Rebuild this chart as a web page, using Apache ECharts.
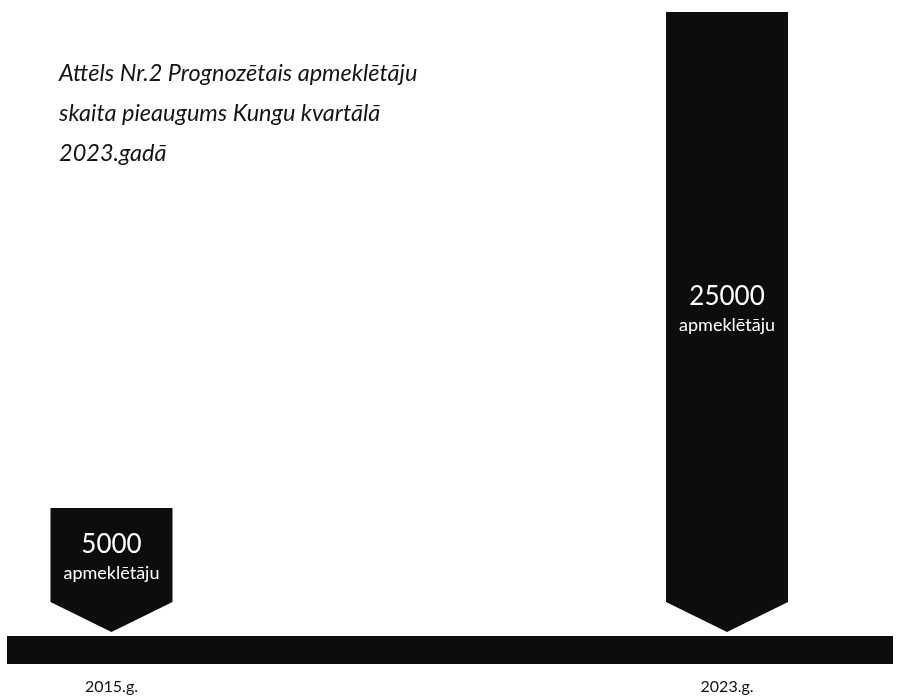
<!DOCTYPE html>
<html>
<head>
<meta charset="utf-8">
<script src="https://cdn.jsdelivr.net/npm/echarts@6/dist/echarts.min.js"></script>
<style>
    html, body { margin: 0; padding: 0; background: #fff; }
    #chart { width: 897px; height: 697px; }
</style>
</head>
<body>
<div id="chart"></div>
<script>
    // dati
    const years = [2015, 2023];
    const visitors = [5000, 25000];
    const unitLabel = 'apmeklētāju';
    const yearSuffix = '.g.';
    const titleText = 'Attēls Nr.2 Prognozētais apmeklētāju\nskaita pieaugums Kungu kvartālā\n2023.gadā';

    const barWidth = 122;
    const arrowHeight = 30;
    const barColor = '#0d0d0d';

    const chart = echarts.init(document.getElementById('chart'));

    function renderArrowBar(params, api) {
        const x = api.value(0);
        const v = api.value(1);
        const top = api.coord([x, v]);
        const tip = api.coord([x, 0]);
        const half = barWidth / 2;
        const shoulder = tip[1] - arrowHeight;
        const labelY = (top[1] + shoulder) / 2 + 2;
        return {
            type: 'group',
            children: [
                {
                    type: 'polygon',
                    shape: {
                        points: [
                            [top[0] - half, top[1]],
                            [top[0] + half, top[1]],
                            [top[0] + half, shoulder],
                            [tip[0], tip[1]],
                            [top[0] - half, shoulder]
                        ]
                    },
                    style: { fill: barColor }
                },
                {
                    type: 'text',
                    x: top[0],
                    y: labelY,
                    style: {
                        text: '{n|' + v + '}\n{u|' + unitLabel + '}',
                        align: 'center',
                        verticalAlign: 'middle',
                        fill: '#fff',
                        rich: {
                            n: { fontSize: 26, fontFamily: 'Lato', color: '#fff', lineHeight: 32 },
                            u: { fontSize: 18, fontFamily: 'Lato', color: '#fff', lineHeight: 24 }
                        }
                    }
                }
            ]
        };
    }

    chart.setOption({
        backgroundColor: '#ffffff',
        animation: false,
        title: {
            text: titleText,
            left: 54,
            top: 48,
            textStyle: {
                fontFamily: 'Lato',
                fontStyle: 'italic',
                fontWeight: 'normal',
                fontSize: 23.5,
                lineHeight: 40,
                color: '#151515'
            }
        },
        grid: {
            left: 7,
            right: 4,
            top: 12,
            bottom: 65
        },
        xAxis: {
            type: 'value',
            min: 2013.642,
            max: 2025.157,
            offset: 18,
            splitLine: { show: false },
            axisTick: { show: false },
            axisLine: {
                show: true,
                onZero: false,
                lineStyle: { color: barColor, width: 28, cap: 'butt' }
            },
            axisLabel: {
                customValues: years,
                margin: 29,
                fontFamily: 'Lato',
                fontSize: 16,
                color: '#111',
                formatter: function (v) { return v + yearSuffix; }
            }
        },
        yAxis: {
            type: 'value',
            min: 0,
            max: 25000,
            show: false
        },
        series: [
            {
                type: 'custom',
                clip: false,
                renderItem: renderArrowBar,
                data: years.map((y, i) => [y, visitors[i]])
            }
        ]
    });
</script>
</body>
</html>
